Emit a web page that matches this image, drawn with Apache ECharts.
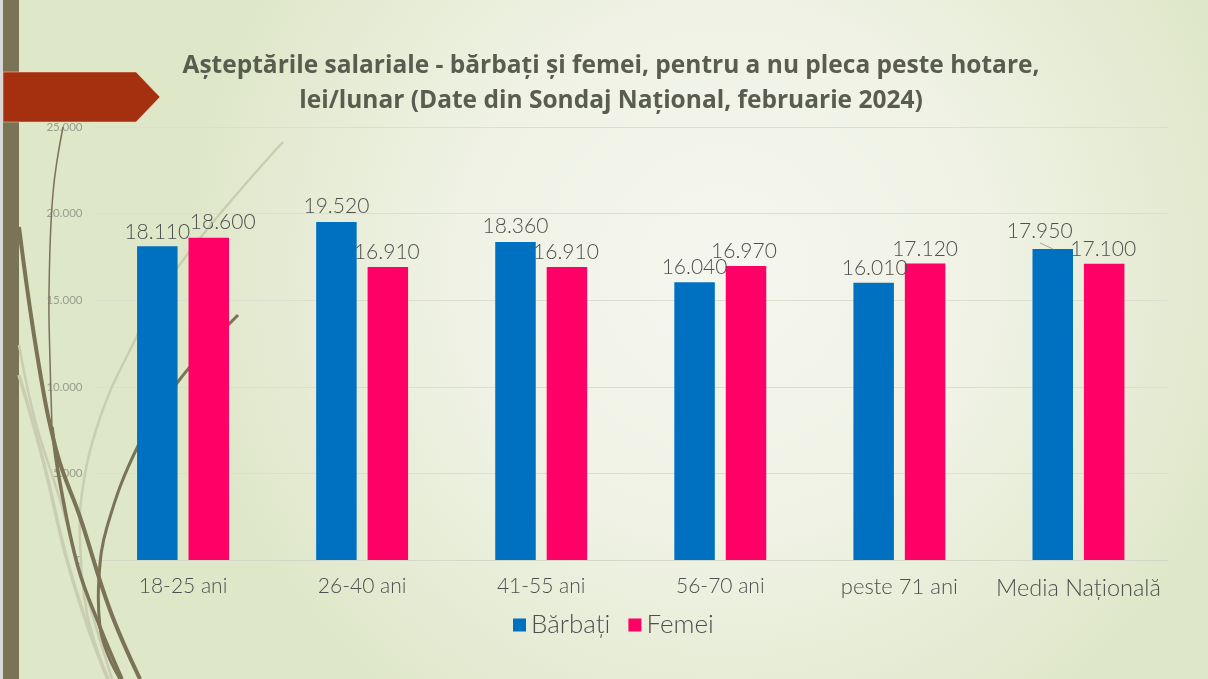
<!DOCTYPE html>
<html>
<head>
<meta charset="utf-8">
<style>html,body{margin:0;padding:0;background:#e6ebd4}#chart{width:1208px;height:679px}</style>
<script src="https://cdn.jsdelivr.net/npm/echarts@6/dist/echarts.min.js"></script>
</head>
<body>
<div id="chart"></div>
<script>
var categories = ['18-25 ani', '26-40 ani', '41-55 ani', '56-70 ani', 'peste 71 ani', 'Media Națională'];
var barbati = [18110, 19520, 18360, 16040, 16010, 17950];
var femei = [18600, 16910, 16910, 16970, 17120, 17100];
// hand placed labels, pixels off the default position
var barbatiShift = [[0, 0], [0, -1], [0, -1], [0, 0], [1, 0], [-13, -3]];
var femeiShift = [[14, -1], [-1, 0], [-1, 0], [-2, 0], [0, 0], [-1, 0]];
// the substitute font runs narrow on the longer names
var categorySize = [21, 21, 21, 21, 22, 23.5];

var textFont = 'Lato';
function dotted(v) {
  return String(v).replace(/\B(?=(\d{3})+$)/g, '.');
}
function withShift(values, shifts) {
  return values.map(function (v, i) {
    return { value: v, label: { offset: shifts[i] } };
  });
}
function curve(points, width, color) {
  return { type: 'polyline', z: 1, silent: true, shape: { points: points, smooth: 0.4 },
    style: { stroke: color, lineWidth: width, fill: null } };
}
var olive = '#7a7356', pale = '#c9ceb0';
var dataLabel = { show: true, position: 'top', distance: 4, fontFamily: textFont, fontWeight: 300, fontSize: 21, color: '#4f4f4f',
  formatter: function (p) { return dotted(p.value); } };

var decor = [
  { type: 'rect', z: 1, silent: true, shape: { x: 0, y: 0, width: 3, height: 679 }, style: { fill: '#d8d8d8' } },
  { type: 'rect', z: 1, silent: true, shape: { x: 3, y: 0, width: 16, height: 679 }, style: { fill: olive } },
  curve([[283, 142], [178, 267], [125, 360], [97, 427], [82, 493], [80, 540], [87, 613], [107, 679]], 2.5, pale),
  curve([[19, 375], [43, 460], [67, 560], [90, 633], [108, 679]], 3.5, pale),
  curve([[19, 345], [35, 420], [60, 500], [85, 590], [112, 679]], 2.5, pale),
  curve([[63, 127], [53, 193], [49, 293], [50, 360], [52, 427]], 1.5, olive),
  curve([[52, 427], [60, 483], [78, 567], [100, 627], [122, 679]], 3.5, olive),
  curve([[19, 227], [38, 360], [57, 453], [80, 517], [110, 610], [140, 679]], 4, olive),
  curve([[238, 315], [177, 383], [137, 448], [107, 527], [99, 577], [100, 627], [108, 655], [120, 679]], 3, olive),
  { type: 'polygon', z: 3, silent: true, shape: { points: [[3, 72], [136, 72], [160, 97], [136, 122], [3, 122]] },
    style: { fill: '#a5300f', stroke: '#f3d9b8', lineWidth: 0.5 } },
  { type: 'line', z: 3, silent: true, shape: { x1: 1040, y1: 243, x2: 1053, y2: 249 }, style: { stroke: '#a6a698', lineWidth: 1 } }
];

var chart = echarts.init(document.getElementById('chart'), null, { renderer: 'canvas' });
chart.setOption({
  animation: false,
  backgroundColor: {
    type: 'radial', x: 0.6, y: 0.4, r: 0.8,
    colorStops: [{ offset: 0, color: '#f5f6ee' }, { offset: 0.5, color: '#eff2e4' }, { offset: 1, color: '#dfe7c9' }]
  },
  title: {
    text: 'Așteptările salariale - bărbați și femei, pentru a nu pleca peste hotare,\nlei/lunar (Date din Sondaj Național, februarie 2024)',
    left: 606, top: 44, textAlign: 'center',
    textStyle: { fontFamily: 'Open Sans', fontSize: 24.5, fontWeight: 'bold', color: '#595d50', lineHeight: 35 }
  },
  legend: {
    left: 508, top: 607,
    itemWidth: 13, itemHeight: 13, itemGap: 18, itemStyle: { borderWidth: 0 }, icon: 'rect',
    textStyle: { fontFamily: textFont, fontWeight: 300, fontSize: 26, color: '#4f4f4f' }
  },
  grid: { left: 93.5, right: 40, top: 127, bottom: 119 },
  xAxis: {
    type: 'category',
    data: categories.map(function (c, i) { return { value: c, textStyle: { fontSize: categorySize[i] } }; }),
    axisTick: { show: false },
    axisLine: { lineStyle: { color: '#d5d7c8', width: 1 } },
    axisLabel: { interval: 0, fontFamily: textFont, fontWeight: 300, fontSize: 21, color: '#4f4f4f', margin: 16 }
  },
  yAxis: {
    type: 'value', min: 0, max: 25000, interval: 5000,
    axisLine: { show: false }, axisTick: { show: false },
    splitLine: { lineStyle: { color: '#dcdfd0', width: 1 } },
    axisLabel: { fontFamily: textFont, fontSize: 11.5, color: '#9a9c8c', margin: 11, formatter: dotted }
  },
  graphic: decor,
  series: [
    { name: 'Bărbați', type: 'bar', data: withShift(barbati, barbatiShift), barWidth: 40.5, barGap: '27%',
      itemStyle: { color: '#0070c0' }, label: dataLabel },
    { name: 'Femei', type: 'bar', data: withShift(femei, femeiShift), barWidth: 40.5,
      itemStyle: { color: '#ff0066' }, label: dataLabel }
  ]
});
</script>
</body>
</html>
